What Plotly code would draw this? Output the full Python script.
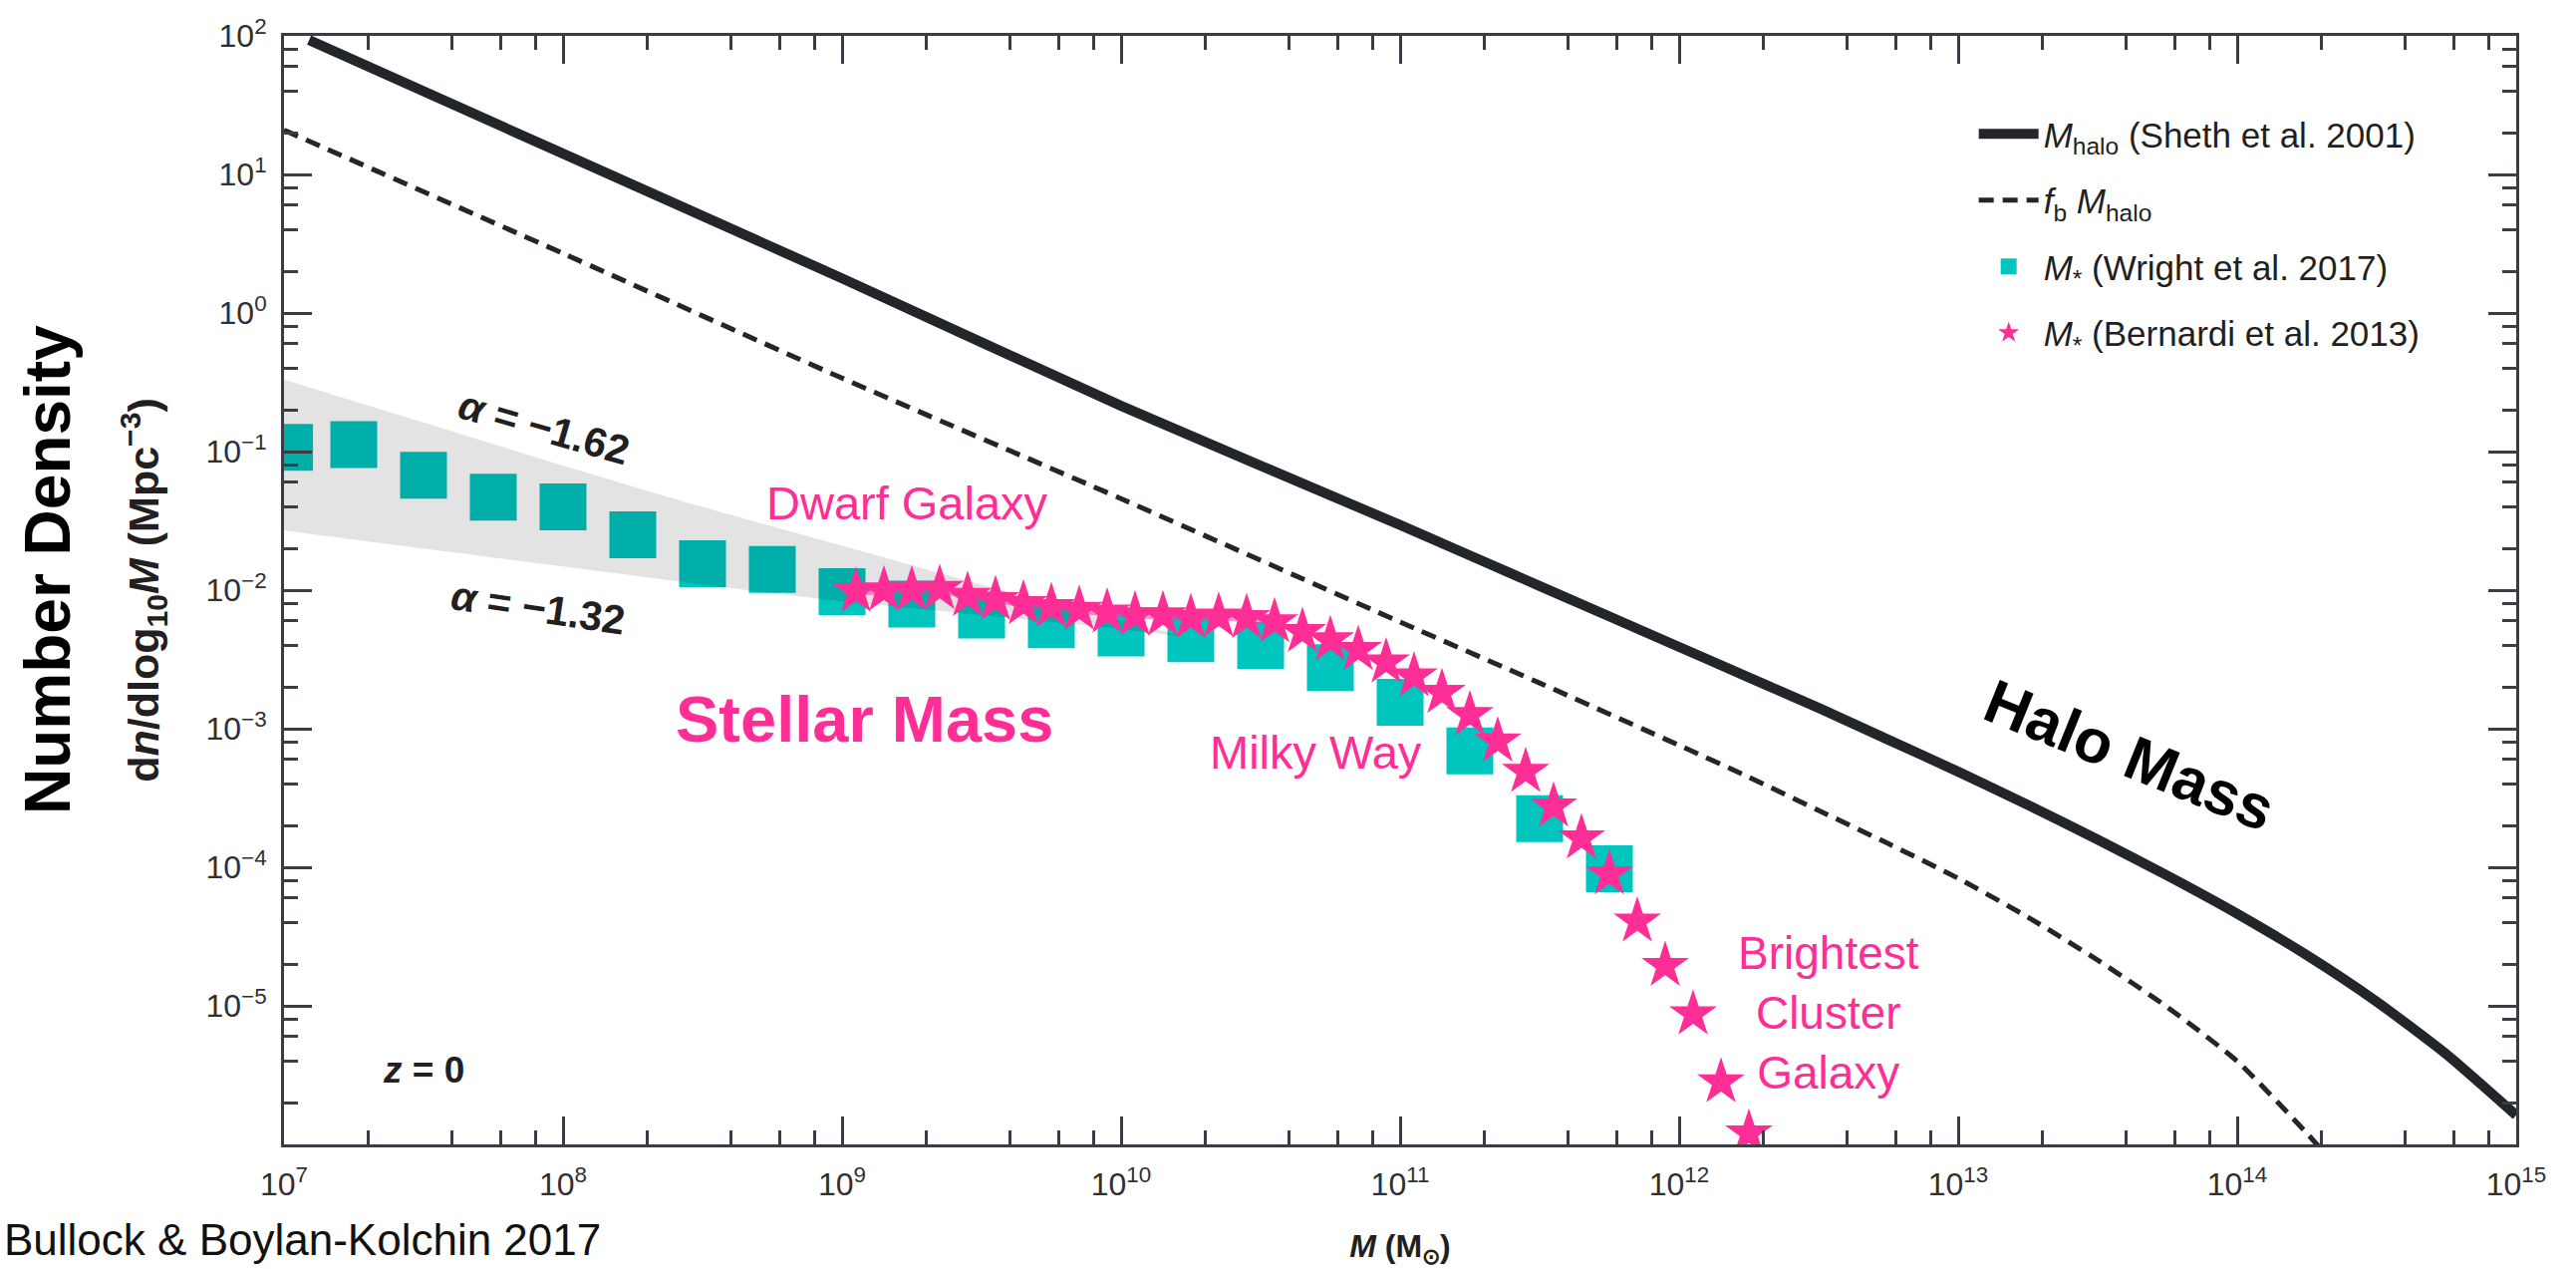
import plotly.graph_objects as go

# ---------------- data (log10 values) ----------------
# Halo mass function, Sheth et al. (2001)
halo_log_mass = [7.09, 8.0, 9.0, 10.0, 11.0, 11.5, 12.0, 12.25, 12.5, 12.75, 13.0,
                 13.25, 13.5, 13.75, 14.0, 14.25, 14.5, 14.75, 15.0]
halo_log_n = [1.97, 1.15, 0.25, -0.67, -1.53, -1.97, -2.41, -2.63, -2.85, -3.08, -3.31,
              -3.55, -3.80, -4.06, -4.335, -4.635, -4.97, -5.35, -5.79]

# f_b * M_halo
fb_log_mass = [7.0, 8.0, 9.0, 10.0, 11.0, 11.5, 12.0, 12.25, 12.5, 12.75, 13.0,
               13.25, 13.5, 13.75, 14.0, 14.25, 14.35]
fb_log_n = [1.32, 0.43, -0.47, -1.34, -2.23, -2.67, -3.12, -3.35, -3.59, -3.83, -4.08,
            -4.36, -4.67, -5.01, -5.40, -5.92, -6.15]

# Low-mass slope band (alpha = -1.62 upper, alpha = -1.32 lower)
band_log_mass = [7.0, 7.5, 8.0, 8.5, 9.0, 9.5, 10.0, 10.2]
band_upper_log_n = [-0.48, -0.79, -1.10, -1.40, -1.68, -1.96, -2.22, -2.32]
band_lower_log_n = [-1.57, -1.70, -1.83, -1.96, -2.08, -2.18, -2.28, -2.33]

# M_* (Wright et al. 2017)
wright_log_mass = [7.02, 7.25, 7.5, 7.75, 8.0, 8.25, 8.5, 8.75, 9.0, 9.25,
                   9.5, 9.75, 10.0, 10.25, 10.5, 10.75, 11.0, 11.25, 11.5, 11.75]
wright_log_n = [-0.97, -0.95, -1.17, -1.33, -1.40, -1.60, -1.81, -1.85, -2.01, -2.10,
                -2.18, -2.25, -2.31, -2.35, -2.40, -2.56, -2.81, -3.16, -3.65, -4.01]

# M_* (Bernardi et al. 2013)
bernardi_log_mass = [9.05, 9.15, 9.25, 9.35, 9.45, 9.55, 9.65, 9.75, 9.85, 9.95,
                     10.05, 10.15, 10.25, 10.35, 10.45, 10.55, 10.65, 10.75, 10.85, 10.95,
                     11.05, 11.15, 11.25, 11.35, 11.45, 11.55, 11.65, 11.75, 11.85, 11.95,
                     12.05, 12.15, 12.25]
bernardi_log_n = [-2.01, -2.00, -2.00, -1.99, -2.04, -2.07, -2.10, -2.12, -2.14, -2.16,
                  -2.18, -2.18, -2.20, -2.19, -2.20, -2.23, -2.30, -2.36, -2.43, -2.52,
                  -2.62, -2.74, -2.90, -3.09, -3.31, -3.56, -3.79, -4.05, -4.39, -4.71,
                  -5.06, -5.55, -5.92]

# Tick labels
x_tick_exponents = [7, 8, 9, 10, 11, 12, 13, 14, 15]
y_tick_exponents = [2, 1, 0, -1, -2, -3, -4, -5]
minor_mantissas = [2, 4, 6, 8]


def lin(vals):
    return [10 ** v for v in vals]


def power_label(e):
    return "10<sup>" + (str(e) if e >= 0 else "\u2212" + str(-e)) + "</sup>"


x_tickvals = [10 ** e for e in x_tick_exponents]
x_ticktext = [power_label(e) for e in x_tick_exponents]
y_tickvals = [10 ** e for e in y_tick_exponents]
y_ticktext = [power_label(e) for e in y_tick_exponents]
x_minor = [m * 10 ** e for e in range(7, 15) for m in minor_mantissas]
y_minor = [m * 10 ** e for e in range(-6, 2) for m in minor_mantissas]

# ---------------- styles ----------------
DARK = "#22262b"
AXIS = "#3a3d42"
TEAL = "#00c4be"
PINK = "#ff2d96"
TXT = "#231f20"
FONT = "Liberation Sans, Arial, Helvetica, sans-serif"

W, H = 2585, 1273
ML, MR, MT, MB = 285, 60, 36, 125
PW, PH = W - ML - MR, H - MT - MB


def px(xpix):
    return (xpix - ML) / PW


def py(ypix):
    return (H - MB - ypix) / PH


fig = go.Figure()

fig.add_trace(go.Scatter(
    x=lin(halo_log_mass), y=lin(halo_log_n), mode="lines",
    line=dict(color=DARK, width=10, shape="spline", smoothing=0.6),
    name="<i>M</i><sub>halo</sub> (Sheth et al. 2001)", legendgroup="a"))
fig.add_trace(go.Scatter(
    x=lin(fb_log_mass), y=lin(fb_log_n), mode="lines",
    line=dict(color=DARK, width=5, dash="15px,9px", shape="spline", smoothing=0.6),
    name="<i>f</i><sub>b</sub> <i>M</i><sub>halo</sub>", legendgroup="b"))
fig.add_trace(go.Scatter(
    x=lin(wright_log_mass), y=lin(wright_log_n), mode="markers",
    marker=dict(symbol="square", size=47, color=TEAL, line=dict(width=0)),
    name="<i>M</i><sub>*</sub> (Wright et al. 2017)", legendgroup="c"))
# shaded band between the two faint-end slopes (semi-transparent, on top of squares)
fig.add_trace(go.Scatter(
    x=lin(band_log_mass), y=lin(band_lower_log_n), mode="lines",
    line=dict(width=0, color="rgba(0,0,0,0)", shape="spline", smoothing=0.8),
    showlegend=False, hoverinfo="skip"))
fig.add_trace(go.Scatter(
    x=lin(band_log_mass), y=lin(band_upper_log_n), mode="lines",
    line=dict(width=0, color="rgba(0,0,0,0)", shape="spline", smoothing=0.8),
    fill="tonexty", fillcolor="rgba(0,0,0,0.11)", showlegend=False, hoverinfo="skip"))
# faint connecting line under the Bernardi stars on the flat part
n_flat = 16
fig.add_trace(go.Scatter(
    x=lin(bernardi_log_mass[:n_flat]), y=lin(bernardi_log_n[:n_flat]), mode="lines",
    line=dict(color="rgba(255,45,150,0.5)", width=8), showlegend=False, hoverinfo="skip"))
fig.add_trace(go.Scatter(
    x=lin(bernardi_log_mass), y=lin(bernardi_log_n), mode="markers",
    marker=dict(symbol="star", size=36, color=PINK, line=dict(width=0)),
    name="<i>M</i><sub>*</sub> (Bernardi et al. 2013)", legendgroup="d"))

axis_common = dict(
    type="log", showgrid=False, zeroline=False, showline=True,
    linecolor=AXIS, linewidth=3, mirror="ticks",
    ticks="inside", ticklen=28, tickwidth=2.5, tickcolor=AXIS,
    tickfont=dict(family=FONT, size=32, color="#2e3034"),
    tickmode="array",
)

fig.update_layout(
    width=W, height=H,
    margin=dict(l=ML, r=MR, t=MT, b=MB, autoexpand=False),
    paper_bgcolor="white", plot_bgcolor="white",
    font=dict(family=FONT, color=TXT),
    showlegend=True,
    legend=dict(
        x=0.757, y=0.938, xanchor="left", yanchor="top",
        bgcolor="rgba(0,0,0,0)", borderwidth=0,
        font=dict(family=FONT, size=35, color=TXT),
        itemwidth=60, tracegroupgap=18,
    ),
    xaxis=dict(
        **axis_common, range=[7, 15],
        tickvals=x_tickvals, ticktext=x_ticktext, ticklabelstandoff=10,
        minor=dict(tickmode="array", tickvals=x_minor, ticks="inside", ticklen=14,
                   tickwidth=2.5, tickcolor=AXIS, showgrid=False),
        title=dict(text="<b><i>M</i> (M<sub>\u2299</sub>)</b>",
                   font=dict(family=FONT, size=32, color=TXT), standoff=38),
    ),
    yaxis=dict(
        **axis_common, range=[-6, 2],
        tickvals=y_tickvals, ticktext=y_ticktext, ticklabelstandoff=8,
        minor=dict(tickmode="array", tickvals=y_minor, ticks="inside", ticklen=14,
                   tickwidth=2.5, tickcolor=AXIS, showgrid=False),
        title=dict(text="<b>d<i>n</i>/dlog<sub>10</sub><i>M</i> (Mpc<sup>\u22123</sup>)</b>",
                   font=dict(family=FONT, size=43, color=TXT), standoff=34),
    ),
)

annots = [
    dict(text="<b>Number Density</b>", x=48, y=572, textangle=-90,
         font=dict(size=64, color="black")),
    dict(text="<b><i>\u03b1</i> = \u22121.62</b>", x=546, y=429, textangle=16,
         font=dict(size=41, color=TXT)),
    dict(text="<b><i>\u03b1</i> = \u22121.32</b>", x=540, y=610, textangle=8.5,
         font=dict(size=41, color=TXT)),
    dict(text="Dwarf Galaxy", x=910, y=504, font=dict(size=47, color=PINK)),
    dict(text="<b>Stellar Mass</b>", x=867, y=721, font=dict(size=65, color=PINK)),
    dict(text="Milky Way", x=1320, y=754, font=dict(size=47, color=PINK)),
    dict(text="Brightest<br>Cluster<br>Galaxy", x=1835, y=1016, align="center",
         font=dict(size=46, color=PINK)),
    dict(text="<b>Halo Mass</b>", x=2137, y=757, textangle=22,
         font=dict(size=62, color="black")),
    dict(text="<b><i>z</i> = 0</b>", x=425, y=1073, font=dict(size=37, color=TXT)),
    dict(text="Bullock & Boylan-Kolchin 2017", x=2, y=1243, xanchor="left",
         font=dict(size=44, color="#111111")),
]
for a in annots:
    base = dict(xref="paper", yref="paper", showarrow=False,
                xanchor="center", yanchor="middle")
    base.update(a)
    base["x"] = px(a["x"])
    base["y"] = py(a["y"])
    base["font"] = dict(family=FONT, **a["font"])
    fig.add_annotation(**base)

fig.write_html("out.html")
